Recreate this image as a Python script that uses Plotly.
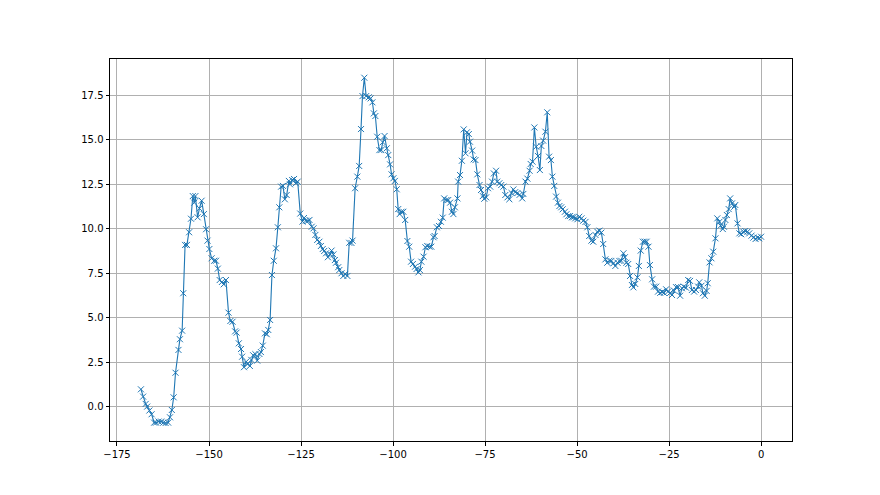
import plotly.graph_objects as go

x_vals = [
    -168.5, -167.9, -167.2, -166.8, -166.2, -165.6, -164.9, -164.4, -163.7, -163.0,
    -162.4, -161.8, -161.1, -160.6, -160.1, -159.6, -159.1, -158.3, -157.9, -157.3,
    -157.0, -156.5, -156.0, -155.4, -154.9, -154.4, -154.0, -153.7, -153.1, -152.6,
    -152.0, -151.4, -150.8, -150.4, -149.9, -149.3, -148.6, -148.1, -147.6, -147.1,
    -146.5, -146.0, -145.4, -144.7, -144.2, -143.6, -142.9, -142.5, -141.9, -141.3,
    -141.0, -140.5, -139.9, -139.5, -138.9, -138.5, -138.0, -137.4, -136.9, -136.3,
    -135.9, -135.4, -134.8, -134.3, -133.9, -133.4, -132.9, -132.4, -131.8, -131.3,
    -130.9, -130.4, -129.9, -129.4, -128.9, -128.3, -128.0, -127.4, -126.9, -126.4,
    -125.9, -125.2, -124.6, -124.2, -123.7, -123.2, -122.7, -122.1, -121.6, -121.1,
    -120.6, -120.0, -119.6, -119.1, -118.7, -118.2, -117.7, -117.1, -116.7, -116.2,
    -115.8, -115.5, -114.9, -114.6, -114.0, -113.5, -113.0, -112.4, -111.9, -111.3,
    -111.0, -110.3, -109.7, -109.2, -108.7, -108.3, -107.8, -107.3, -106.6, -106.1,
    -105.6, -105.2, -104.8, -104.3, -103.7, -103.2, -102.8, -102.3, -101.7, -101.3,
    -100.8, -100.4, -99.9, -99.5, -99.0, -98.6, -98.2, -97.7, -97.2, -96.7,
    -96.1, -95.6, -95.1, -94.6, -94.0, -93.6, -93.1, -92.7, -92.3, -91.7,
    -91.2, -90.7, -90.1, -89.6, -89.0, -88.7, -88.1, -87.5, -87.0, -86.5,
    -86.1, -85.5, -85.0, -84.5, -84.0, -83.6, -83.2, -82.5, -82.3, -81.8,
    -81.3, -80.8, -80.3, -79.9, -79.4, -79.1, -78.5, -78.1, -77.6, -77.1,
    -76.5, -76.1, -75.6, -75.2, -74.7, -74.2, -73.6, -73.1, -72.6, -72.0,
    -71.7, -71.1, -70.6, -70.0, -69.5, -68.9, -68.4, -67.8, -67.3, -66.8,
    -66.2, -65.6, -64.9, -64.6, -64.0, -63.5, -62.9, -62.6, -62.1, -61.6,
    -61.1, -60.6, -60.1, -59.7, -59.2, -58.6, -58.1, -57.6, -57.1, -56.7,
    -56.2, -55.7, -55.2, -54.8, -54.3, -53.9, -53.3, -52.9, -52.4, -51.9,
    -51.4, -51.0, -50.5, -49.9, -49.4, -48.8, -48.3, -47.7, -47.2, -46.7,
    -46.1, -45.6, -45.0, -44.5, -43.9, -43.4, -42.9, -42.3, -41.8, -41.2,
    -40.7, -40.1, -39.6, -39.0, -38.5, -38.0, -37.4, -37.0, -36.6, -36.1,
    -35.6, -35.1, -34.7, -34.2, -33.6, -33.2, -32.7, -32.1, -31.6, -31.1,
    -30.6, -30.2, -29.6, -29.1, -28.5, -28.0, -27.4, -26.9, -26.4, -25.8,
    -25.3, -24.7, -24.2, -23.7, -23.1, -22.6, -22.0, -21.5, -21.0, -20.4,
    -19.8, -19.3, -18.8, -18.2, -17.7, -17.1, -16.8, -16.2, -15.8, -15.3,
    -14.8, -14.5, -14.0, -13.5, -13.0, -12.4, -11.9, -11.3, -11.0, -10.4,
    -10.1, -9.7, -9.3, -8.8, -8.4, -7.9, -7.3, -7.0, -6.4, -5.9,
    -5.4, -4.8, -4.3, -3.7, -3.2, -2.6, -2.1, -1.5, -1.0, -0.5,
    0.0,
]

y_vals = [
    0.99, 0.58, 0.17, 0.02, -0.20, -0.41, -0.88, -0.88, -0.82, -0.82,
    -0.88, -0.90, -0.88, -0.58, -0.17, 0.54, 1.92, 3.20, 3.80, 4.28,
    6.38, 9.09, 9.09, 9.80, 10.56, 11.83, 11.46, 11.83, 10.64, 11.14,
    11.57, 10.82, 9.97, 9.33, 8.86, 8.34, 8.20, 8.20, 7.76, 7.12,
    7.01, 6.88, 7.12, 5.29, 4.82, 4.78, 4.24, 4.17, 3.57, 3.25,
    2.82, 2.23, 2.54, 2.41, 2.30, 2.64, 2.90, 2.96, 2.60, 2.97,
    3.08, 3.44, 4.13, 4.08, 4.32, 4.88, 7.40, 8.20, 8.90, 10.08,
    11.20, 12.36, 12.40, 11.65, 11.89, 12.68, 12.49, 12.73, 12.79, 12.55,
    12.64, 10.85, 10.40, 10.60, 10.45, 10.43, 10.49, 10.11, 10.02, 9.65,
    9.37, 9.27, 9.03, 8.86, 8.75, 8.62, 8.40, 8.56, 8.77, 8.56,
    8.24, 8.09, 7.84, 7.68, 7.50, 7.35, 7.46, 7.35, 9.21, 9.20,
    9.33, 12.27, 12.92, 13.52, 15.59, 17.44, 18.47, 17.44, 17.37, 17.31,
    17.09, 16.47, 16.32, 15.16, 14.41, 14.41, 14.85, 15.20, 14.51, 14.13,
    13.61, 13.05, 12.83, 12.68, 12.21, 11.10, 10.82, 10.95, 10.95, 10.49,
    9.31, 8.99, 8.15, 8.02, 7.87, 7.74, 7.55, 7.68, 8.15, 8.43,
    8.96, 9.03, 8.99, 8.99, 9.52, 9.59, 10.08, 10.15, 10.39, 10.62,
    11.70, 11.61, 11.61, 11.46, 10.95, 10.82, 11.20, 11.70, 12.64, 13.01,
    13.81, 15.57, 14.23, 15.41, 15.31, 14.88, 14.38, 13.89, 13.85, 13.05,
    12.45, 12.17, 11.83, 11.68, 11.76, 12.27, 12.36, 12.64, 13.10, 13.25,
    12.64, 12.55, 12.45, 12.36, 11.89, 11.76, 11.65, 12.00, 12.20, 12.05,
    12.00, 11.90, 11.70, 11.95, 12.64, 12.81, 13.25, 13.63, 13.76, 15.68,
    14.60, 14.08, 13.29, 14.64, 14.94, 15.44, 16.53, 14.04, 13.85, 12.92,
    12.40, 11.80, 11.46, 11.27, 11.20, 11.09, 10.95, 10.81, 10.71, 10.71,
    10.64, 10.64, 10.58, 10.53, 10.67, 10.58, 10.45, 10.38, 10.08, 9.59,
    9.33, 9.27, 9.65, 9.83, 9.89, 9.78, 9.14, 8.28, 8.09, 8.20,
    8.19, 8.06, 7.91, 8.09, 8.19, 8.20, 8.62, 8.40, 8.09, 8.02,
    7.35, 6.84, 6.71, 6.90, 7.27, 7.91, 8.77, 9.27, 9.27, 9.27,
    8.99, 7.96, 7.16, 6.75, 6.75, 6.47, 6.40, 6.45, 6.40, 6.60,
    6.47, 6.40, 6.28, 6.53, 6.72, 6.73, 6.24, 6.66, 6.75, 6.69,
    7.12, 7.07, 6.56, 6.47, 6.56, 6.75, 6.99, 6.80, 6.38, 6.24,
    6.51, 6.94, 8.11, 8.34, 8.71, 9.46, 10.58, 10.39, 10.17, 9.98,
    10.11, 10.49, 10.77, 11.10, 11.70, 11.42, 11.23, 11.33, 10.30, 9.74,
    9.69, 9.83, 9.87, 9.83, 9.74, 9.61, 9.50, 9.42, 9.50, 9.46,
    9.55,
]

x_ticks = [-175, -150, -125, -100, -75, -50, -25, 0]
y_ticks = [0.0, 2.5, 5.0, 7.5, 10.0, 12.5, 15.0, 17.5]

fig = go.Figure()
fig.add_trace(go.Scatter(
    x=x_vals, y=y_vals, mode="lines+markers",
    line=dict(color="#1f77b4", width=1.1),
    marker=dict(symbol="x-thin-open", size=6, color="#1f77b4",
                line=dict(width=1, color="#1f77b4")),
    showlegend=False,
))

axis_common = dict(
    showline=True, linecolor="black", linewidth=1, mirror=True,
    ticks="outside", ticklen=3.5, tickwidth=0.8, tickcolor="black",
    showgrid=True, gridcolor="#b0b0b0", gridwidth=0.8, zeroline=False,
    tickfont=dict(family="DejaVu Sans", size=10, color="black"),
)

fig.update_xaxes(range=[-176.9, 8.4], tickvals=x_ticks,
                 ticktext=[str(v).replace("-", "\u2212") for v in x_ticks],
                 **axis_common)
fig.update_yaxes(range=[-1.91, 19.52], tickvals=y_ticks,
                 ticktext=[f"{v:.1f}" for v in y_ticks],
                 **axis_common)

fig.update_layout(
    width=880, height=495,
    margin=dict(l=102, r=96, t=51, b=62),
    paper_bgcolor="white", plot_bgcolor="white",
)

fig.write_html("out.html")
